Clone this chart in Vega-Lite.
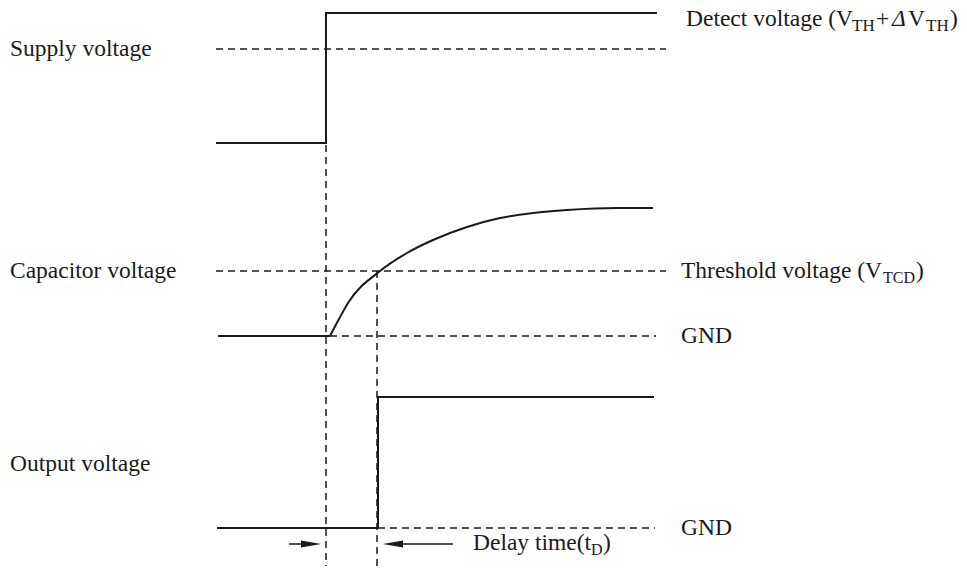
{
  "$schema": "https://vega.github.io/schema/vega-lite/v6.json",
  "width": 967,
  "height": 573,
  "autosize": {"type": "fit", "contains": "padding"},
  "padding": 0,
  "background": "white",
  "config": {"view": {"stroke": null}},
  "datasets": {
    "solid": [
      {"seg": "supply", "o": 1, "t": 216, "v": 143},
      {"seg": "supply", "o": 2, "t": 326, "v": 143},
      {"seg": "supply", "o": 3, "t": 326, "v": 13},
      {"seg": "supply", "o": 4, "t": 657, "v": 13},
      {"seg": "output", "o": 1, "t": 217, "v": 528},
      {"seg": "output", "o": 2, "t": 378, "v": 528},
      {"seg": "output", "o": 3, "t": 378, "v": 397},
      {"seg": "output", "o": 4, "t": 654, "v": 397},
      {"seg": "capflat", "o": 1, "t": 218, "v": 336},
      {"seg": "capflat", "o": 2, "t": 330, "v": 336}
    ],
    "cap": [
      {"t": 330, "v": 336},
      {"t": 339, "v": 319},
      {"t": 348, "v": 303},
      {"t": 380, "v": 271},
      {"t": 407, "v": 253},
      {"t": 433, "v": 240},
      {"t": 467, "v": 227},
      {"t": 500, "v": 218},
      {"t": 533, "v": 213},
      {"t": 567, "v": 210},
      {"t": 617, "v": 208},
      {"t": 653, "v": 208}
    ],
    "dashed": [
      {"t1": 216, "t2": 666, "v1": 49, "v2": 49},
      {"t1": 216, "t2": 666, "v1": 271, "v2": 271},
      {"t1": 330, "t2": 656, "v1": 336, "v2": 336},
      {"t1": 378, "t2": 655, "v1": 528, "v2": 528},
      {"t1": 326, "t2": 326, "v1": 145, "v2": 566},
      {"t1": 377, "t2": 377, "v1": 271, "v2": 566}
    ],
    "arrowLines": [
      {"t1": 289, "t2": 306, "v1": 544, "v2": 544},
      {"t1": 396, "t2": 453, "v1": 544, "v2": 544}
    ],
    "arrowHeads": [
      {"t": 311, "v": 544, "dir": "right"},
      {"t": 393, "v": 544, "dir": "left"}
    ],
    "labels": [
      {"txt": "Supply voltage", "t": 10, "v": 56, "s": 23.5},
      {"txt": "Capacitor voltage", "t": 10, "v": 278, "s": 23.5},
      {"txt": "Output voltage", "t": 10, "v": 471, "s": 23.5},
      {"txt": "Detect voltage (V", "t": 686, "v": 26, "s": 23.5},
      {"txt": "TH", "t": 852, "v": 31, "s": 17},
      {"txt": "+", "t": 876, "v": 26, "s": 23.5},
      {"txt": "V", "t": 908, "v": 26, "s": 23.5},
      {"txt": "TH", "t": 926, "v": 31, "s": 17},
      {"txt": ")", "t": 950, "v": 26, "s": 23.5},
      {"txt": "Threshold voltage (V", "t": 681, "v": 278, "s": 23.5},
      {"txt": "TCD", "t": 883, "v": 283, "s": 16},
      {"txt": ")", "t": 916, "v": 278, "s": 23.5},
      {"txt": "GND", "t": 681, "v": 343, "s": 23.5},
      {"txt": "GND", "t": 681, "v": 535, "s": 23.5},
      {"txt": "Delay time(t", "t": 473, "v": 550, "s": 23.5},
      {"txt": "D", "t": 591, "v": 555, "s": 16},
      {"txt": ")", "t": 603, "v": 550, "s": 23.5}
    ],
    "italic": [
      {"txt": "Δ", "t": 892, "v": 26, "s": 23.5}
    ]
  },
  "layer": [
    {
      "data": {"name": "dashed"},
      "mark": {"type": "rule", "stroke": "#1a1a1a", "strokeWidth": 1.5, "strokeDash": [7, 5]},
      "encoding": {
        "x": {"field": "t1", "type": "quantitative", "scale": {"domain": [0, 967], "nice": false, "zero": false}, "axis": null},
        "x2": {"field": "t2"},
        "y": {"field": "v1", "type": "quantitative", "scale": {"domain": [0, 573], "nice": false, "zero": false, "reverse": true}, "axis": null},
        "y2": {"field": "v2"}
      }
    },
    {
      "data": {"name": "solid"},
      "mark": {"type": "line", "stroke": "#1a1a1a", "strokeWidth": 2, "interpolate": "linear"},
      "encoding": {
        "x": {"field": "t", "type": "quantitative", "axis": null},
        "y": {"field": "v", "type": "quantitative", "axis": null},
        "detail": {"field": "seg"},
        "order": {"field": "o", "type": "quantitative"}
      }
    },
    {
      "data": {"name": "cap"},
      "mark": {"type": "line", "stroke": "#1a1a1a", "strokeWidth": 2, "interpolate": "monotone"},
      "encoding": {
        "x": {"field": "t", "type": "quantitative", "axis": null},
        "y": {"field": "v", "type": "quantitative", "axis": null}
      }
    },
    {
      "data": {"name": "arrowLines"},
      "mark": {"type": "rule", "stroke": "#1a1a1a", "strokeWidth": 1.5},
      "encoding": {
        "x": {"field": "t1", "type": "quantitative", "axis": null},
        "x2": {"field": "t2"},
        "y": {"field": "v1", "type": "quantitative", "axis": null},
        "y2": {"field": "v2"}
      }
    },
    {
      "data": {"name": "arrowHeads"},
      "mark": {"type": "point", "filled": true, "fill": "#1a1a1a", "strokeWidth": 0, "size": 400, "opacity": 1},
      "encoding": {
        "x": {"field": "t", "type": "quantitative", "axis": null},
        "y": {"field": "v", "type": "quantitative", "axis": null},
        "shape": {"field": "dir", "type": "nominal", "scale": {"domain": ["right", "left"], "range": ["M 1 0 L -1 -0.35 L -1 0.35 Z", "M -1 0 L 1 -0.35 L 1 0.35 Z"]}, "legend": null}
      }
    },
    {
      "data": {"name": "labels"},
      "mark": {"type": "text", "font": "Liberation Serif", "align": "left", "baseline": "alphabetic", "fill": "#1a1a1a"},
      "encoding": {
        "x": {"field": "t", "type": "quantitative", "axis": null},
        "y": {"field": "v", "type": "quantitative", "axis": null},
        "text": {"field": "txt"},
        "size": {"field": "s", "type": "quantitative", "scale": null}
      }
    },
    {
      "data": {"name": "italic"},
      "mark": {"type": "text", "font": "Liberation Serif", "fontStyle": "italic", "align": "left", "baseline": "alphabetic", "fill": "#1a1a1a"},
      "encoding": {
        "x": {"field": "t", "type": "quantitative", "axis": null},
        "y": {"field": "v", "type": "quantitative", "axis": null},
        "text": {"field": "txt"},
        "size": {"field": "s", "type": "quantitative", "scale": null}
      }
    }
  ]
}
